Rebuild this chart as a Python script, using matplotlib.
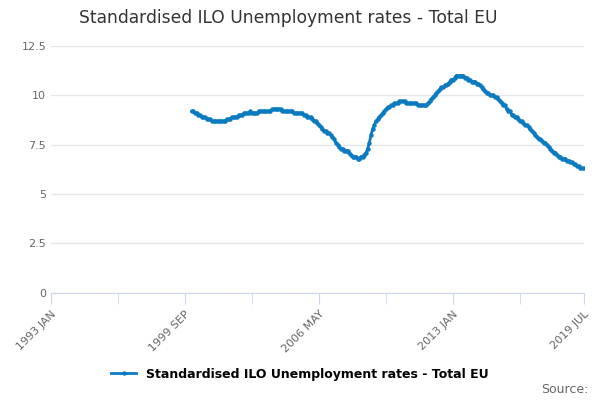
import matplotlib.pyplot as plt

y2000 = [9.2,9.2,9.1,9.1,9.0,9.0,8.9,8.9,8.9,8.8,8.8,8.8]
y2001 = [8.7,8.7,8.7,8.7,8.7,8.7,8.7,8.7,8.7,8.8,8.8,8.8]
y2002 = [8.9,8.9,8.9,8.9,9.0,9.0,9.0,9.1,9.1,9.1,9.1,9.2]
y2003 = [9.1,9.1,9.1,9.1,9.2,9.2,9.2,9.2,9.2,9.2,9.2,9.2]
y2004 = [9.3,9.3,9.3,9.3,9.3,9.3,9.2,9.2,9.2,9.2,9.2,9.2]
y2005 = [9.2,9.1,9.1,9.1,9.1,9.1,9.1,9.0,9.0,8.9,8.9,8.9]
y2006 = [8.8,8.7,8.7,8.6,8.5,8.4,8.3,8.2,8.2,8.1,8.1,8.0]
y2007 = [7.9,7.8,7.6,7.5,7.4,7.3,7.3,7.2,7.2,7.2,7.1,7.0]
y2008 = [6.9,6.9,6.9,6.8,6.8,6.9,6.9,7.0,7.1,7.3,7.6,8.0]
y2009 = [8.3,8.5,8.7,8.8,8.9,9.0,9.1,9.2,9.3,9.4,9.4,9.5]
y2010 = [9.5,9.6,9.6,9.6,9.7,9.7,9.7,9.7,9.6,9.6,9.6,9.6]
y2011 = [9.6,9.6,9.6,9.5,9.5,9.5,9.5,9.5,9.5,9.6,9.7,9.8]
y2012 = [9.9,10.0,10.1,10.2,10.3,10.4,10.4,10.5,10.5,10.6,10.7,10.8]
y2013 = [10.8,10.9,11.0,11.0,11.0,11.0,11.0,10.9,10.9,10.8,10.8,10.7]
y2014 = [10.7,10.7,10.6,10.6,10.5,10.4,10.3,10.2,10.1,10.1,10.0,10.0]
y2015 = [10.0,9.9,9.9,9.8,9.7,9.6,9.5,9.5,9.3,9.2,9.2,9.0]
y2016 = [9.0,8.9,8.9,8.8,8.7,8.7,8.6,8.5,8.5,8.4,8.3,8.2]
y2017 = [8.1,8.0,7.9,7.8,7.8,7.7,7.6,7.6,7.5,7.4,7.3,7.2]
y2018 = [7.1,7.1,7.0,6.9,6.9,6.8,6.8,6.8,6.7,6.7,6.6,6.6]
y2019 = [6.5,6.5,6.4,6.4,6.3,6.3,6.3]

rates = (y2000 + y2001 + y2002 + y2003 + y2004 + y2005 + y2006 + y2007 + y2008 + y2009
         + y2010 + y2011 + y2012 + y2013 + y2014 + y2015 + y2016 + y2017 + y2018 + y2019)
# months counted from 1993 JAN; data starts 2000 JAN
months = [84 + i for i in range(len(rates))]

tick_pos = [0, 80, 160, 240, 318]
tick_labels = ['1993 JAN', '1999 SEP', '2006 MAY', '2013 JAN', '2019 JUL']
label = 'Standardised ILO Unemployment rates - Total EU'

fig = plt.figure(figsize=(6, 4), dpi=100)
ax = fig.add_axes([0.085, 0.268, 0.888, 0.617])
col = '#0a7bc0'
ax.plot(months, rates, color=col, lw=2, marker='o', ms=2.2, label=label)
ax.set_xlim(0, 318)
ax.set_ylim(0, 12.5)
ax.set_yticks([0, 2.5, 5, 7.5, 10, 12.5])
ax.set_yticklabels(['0', '2.5', '5', '7.5', '10', '12.5'])
ax.set_xticks(tick_pos)
ax.set_xticklabels(tick_labels, rotation=45, ha='right', rotation_mode='anchor')
ax.set_xticks([40, 120, 200, 280], minor=True)
ax.grid(axis='y', color='#e6e6e6', lw=1)
ax.set_axisbelow(True)
for s in ['top', 'right', 'left']:
    ax.spines[s].set_visible(False)
ax.spines['bottom'].set_color('#ccd6eb')
ax.tick_params(axis='x', which='both', color='#ccd6eb', length=8, labelsize=8, labelcolor='#666666')
ax.tick_params(axis='y', length=0, labelsize=8, labelcolor='#666666')
fig.text(0.48, 0.955, label, ha='center', va='center', fontsize=12.3, color='#333333')
fig.legend(loc='lower center', bbox_to_anchor=(0.5, 0.02), frameon=False,
           prop={'weight': 'bold', 'size': 9})
fig.text(0.98, 0.01, 'Source:', ha='right', va='bottom', fontsize=9, color='#666666')
fig.savefig('out.png')
